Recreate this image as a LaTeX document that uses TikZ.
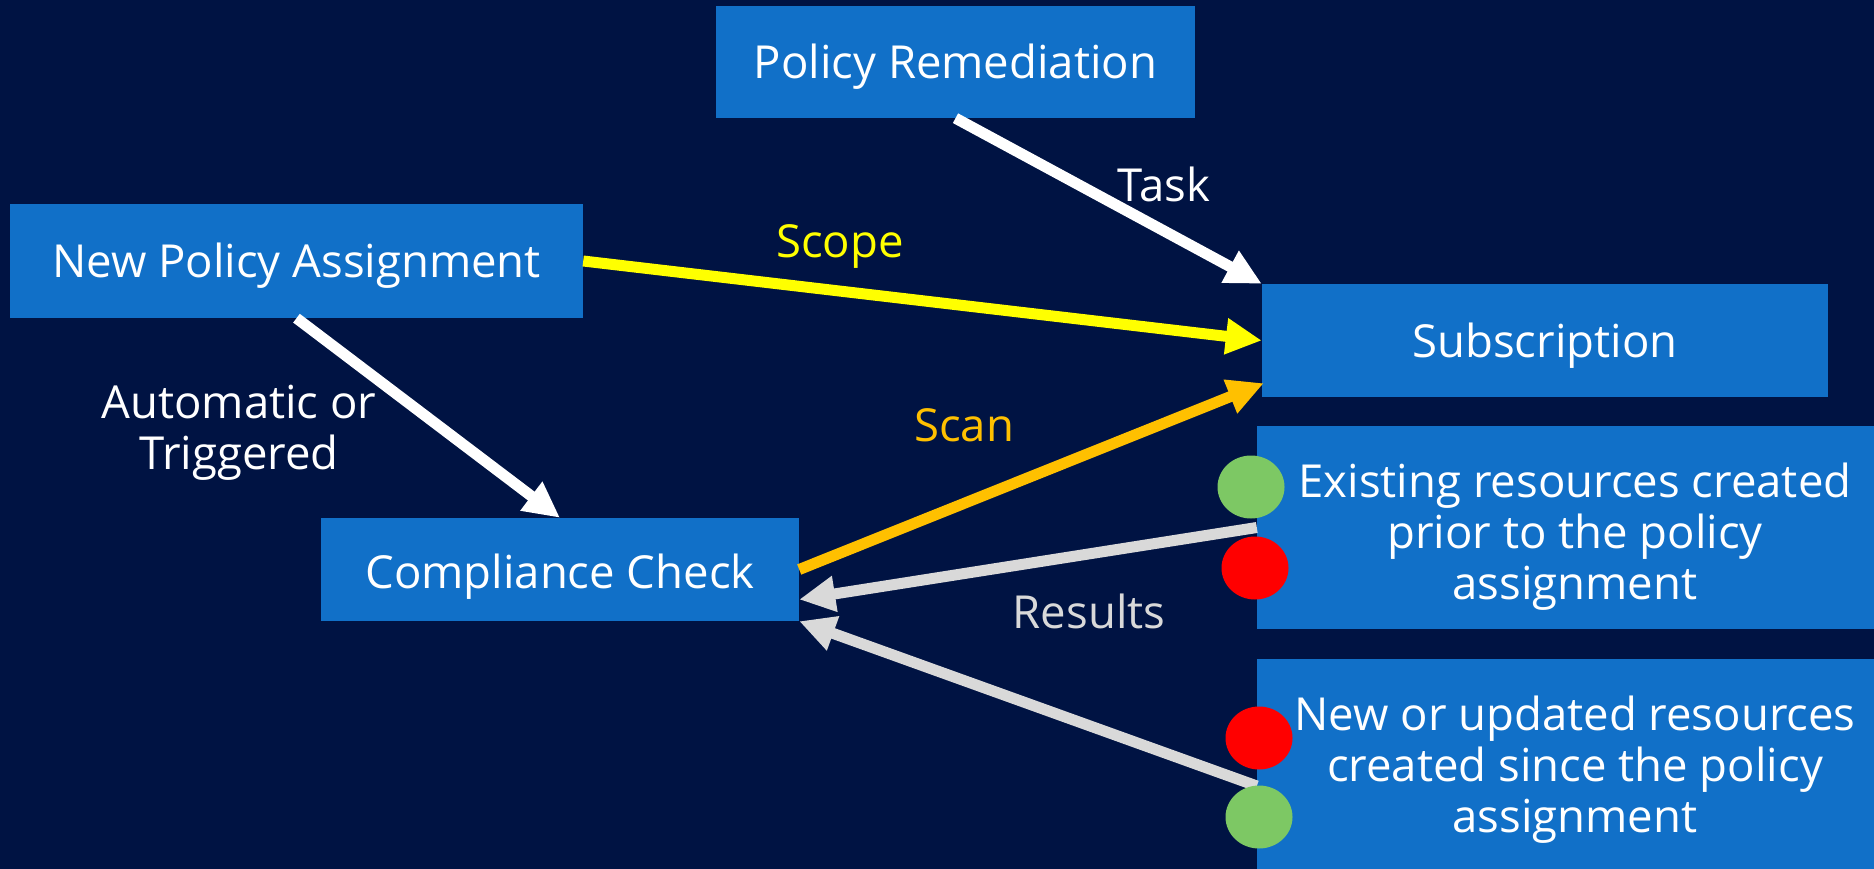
\documentclass[tikz,border=0pt]{standalone}
\usepackage{fontspec}
\setmainfont{Open Sans}
\usetikzlibrary{arrows.meta,calc,shapes.geometric}
\definecolor{bg}{HTML}{001343}
\definecolor{boxblue}{HTML}{1170C8}
\definecolor{scopey}{HTML}{FFFF00}
\definecolor{scano}{HTML}{FFC000}
\definecolor{resg}{HTML}{D9D9D9}
\definecolor{dotg}{HTML}{7DC864}
\definecolor{dotr}{HTML}{FF0000}
\tikzset{
  txt/.style={text=white, inner sep=0pt, font=\fontsize{45.5}{51}\selectfont, align=center},
  bx/.style={fill=boxblue, inner sep=0pt},
  lbl/.style={font=\fontsize{45.5}{51}\selectfont, align=center, inner sep=0pt},
  arr/.style={line width=11pt, -{Triangle[length=36pt,width=34pt]}},
  dot/.style={ellipse, minimum width=67pt, minimum height=63pt, inner sep=0pt}
}
\begin{document}
\begin{tikzpicture}[x=1pt,y=-1pt]
\useasboundingbox (0,0) rectangle (1874,869);
\clip (0,0) rectangle (1874,869);
\fill[bg] (0,0) rectangle (1874,869);
% boxes
\node[bx, minimum width=479pt, minimum height=112pt,
  label={[txt,yshift=-5pt]center:Policy Remediation}] (rem) at (955.5,62) {};
\node[bx, minimum width=573pt, minimum height=114pt,
  label={[txt,yshift=-5pt]center:New Policy Assignment}] (npa) at (296.5,261) {};
\node[bx, minimum width=566pt, minimum height=113pt,
  label={[txt,yshift=-5pt]center:Subscription}] (sub) at (1545,340.5) {};
\node[bx, minimum width=478pt, minimum height=103pt,
  label={[txt,yshift=-7pt]center:Compliance Check}] (cc) at (560,569.5) {};
\node[bx, minimum width=636pt, minimum height=203pt,
  label={[txt,yshift=-9pt]center:Existing resources created\\prior to the policy\\assignment}] (ex) at (1575,527.5) {};
\node[bx, minimum width=636pt, minimum height=210pt,
  label={[txt,yshift=-6pt]center:New or updated resources\\created since the policy\\assignment}] (nu) at (1575,764) {};
% arrows
\draw[arr, white] (rem.south) -- (sub.north west);
\draw[arr, scopey] (npa.east) -- (sub.west);
\draw[arr, white] (npa.south) -- (cc.north);
\draw[arr, scano] (cc.east) -- ($(sub.south west)+(2,-14)$);
\draw[arr, resg] (ex.west) -- ($(cc.east)+(0,30)$);
\draw[arr, resg] ($(nu.west)+(0,22)$) -- (cc.south east);
% labels
\node[lbl, text=white] (ltask) at (1164,184) {Task};
\node[lbl, text=scopey] (lscope) at (840,246) {Scope};
\node[lbl, text=white] (lauto) at (239,433) {Automatic or\\Triggered};
\node[lbl, text=scano] (lscan) at (964,425) {Scan};
\node[lbl, text=resg] (lres) at (1089,611) {Results};
% dots
\node[dot, fill=dotg] (g1) at (1251,487) {};
\node[dot, fill=dotr] (r1) at (1255,568) {};
\node[dot, fill=dotr] (r2) at (1259,738) {};
\node[dot, fill=dotg] (g2) at (1259,817) {};
\end{tikzpicture}
\end{document}
